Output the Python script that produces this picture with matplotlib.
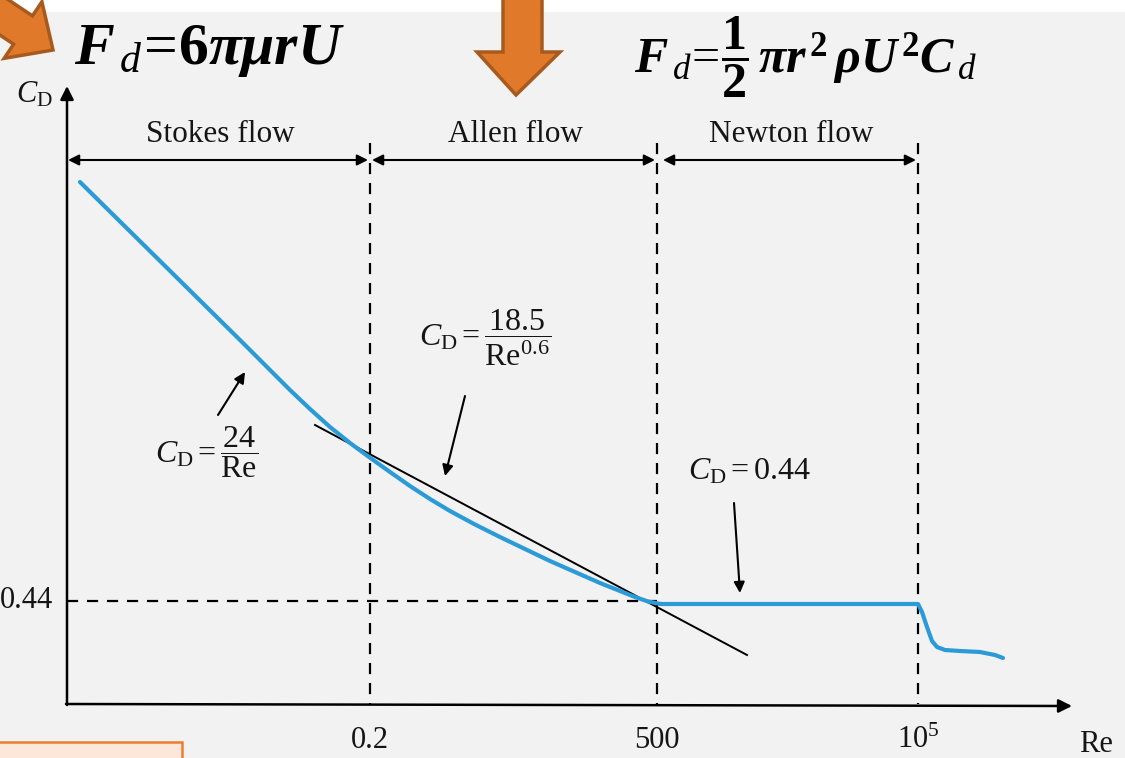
import matplotlib
matplotlib.use("Agg")
import matplotlib.pyplot as plt
from matplotlib.patches import Polygon, Rectangle
import numpy as np

plt.rcParams['mathtext.fontset'] = 'custom'
plt.rcParams['mathtext.rm'] = 'Liberation Serif'
plt.rcParams['mathtext.it'] = 'Liberation Serif:italic'
plt.rcParams['mathtext.bf'] = 'Liberation Serif:italic:bold'
plt.rcParams['mathtext.sf'] = 'Liberation Serif:bold'
plt.rcParams['font.family'] = ['Liberation Serif', 'DejaVu Serif']

# ---------------- data (schematic chart coordinates) -------------
# x positions of the regime boundaries on the schematic Re axis
boundary_labels = ['0.2', '500', r'$10^5$']
boundary_x = [370, 657, 918]
cd_level_label = '0.44'
cd_level_y = 601

# blue drag curve: Stokes + Allen part
curve1_x = [80, 160, 240, 290, 310, 330, 350, 369, 390, 410, 430, 450, 475, 500, 525,
            550, 575, 600, 620, 635, 648, 661]
curve1_y = [182, 261, 340, 390, 409, 427, 443, 457, 472, 486, 499, 511, 524.5, 537, 549,
            561, 572, 583, 591, 597, 601.5, 604]
# Newton plateau and drag crisis
curve2_x = [661, 918, 922, 927, 932, 937, 945, 960, 980, 995, 1003]
curve2_y = [604, 604, 612, 627, 641, 647, 650, 651, 652, 655, 658]
# Allen asymptote 18.5/Re^0.6
allen_x = [315, 747]
allen_y = [425, 655]

regime_names = ['Stokes flow', 'Allen flow', 'Newton flow']
regime_left = [68, 372, 663]
regime_right = [368, 655, 916]

# ---------------- figure ----------------
fig = plt.figure(figsize=(11.25, 7.58), dpi=100)
fig.patch.set_facecolor('#f2f2f2')
ax = fig.add_axes([0, 0, 1, 1])
ax.set_xlim(0, 1125)
ax.set_ylim(758, 0)
ax.axis('off')
ax.set_facecolor('#f2f2f2')

# white strip at the very top
ax.add_patch(Rectangle((0, 0), 1125, 12, facecolor='white', edgecolor='none', zorder=0))

blue = '#2B9BD8'
ink = '#151515'

# axes with arrows
x0, y0 = 67, 704
ax.annotate('', xy=(x0, 86), xytext=(x0, y0 + 1),
            arrowprops=dict(arrowstyle='-|>', color='black', lw=1.8, mutation_scale=20,
                            shrinkA=0, shrinkB=0))
ax.annotate('', xy=(1072, y0 + 2), xytext=(x0 - 1, y0),
            arrowprops=dict(arrowstyle='-|>', color='black', lw=1.8, mutation_scale=20,
                            shrinkA=0, shrinkB=0))

# dashed verticals and horizontal
for bx in boundary_x:
    ax.plot([bx, bx], [143, y0], color='black', lw=1.6, ls=(0, (5, 4)), zorder=2)
ax.plot([x0, boundary_x[1]], [cd_level_y, cd_level_y], color='black', lw=1.6,
        ls=(0, (5, 4)), zorder=2)

# regime arrows and names
for name, l, r in zip(regime_names, regime_left, regime_right):
    ax.annotate('', xy=(l, 160), xytext=(r, 160),
                arrowprops=dict(arrowstyle='<|-|>', color='black', lw=1.5,
                                mutation_scale=16, shrinkA=0, shrinkB=0))
    ax.text((l + r) / 2 + 2, 135, name, fontsize=22.5, ha='center', va='center', color=ink)

# curves
ax.plot(allen_x, allen_y, color='black', lw=1.4, zorder=3)
ax.plot(curve1_x, curve1_y, color=blue, lw=3.0, solid_capstyle='round',
        solid_joinstyle='round', zorder=4)
ax.plot(curve2_x, curve2_y, color=blue, lw=3.0, solid_capstyle='round',
        solid_joinstyle='round', zorder=4)

# tick labels
for lab, bx in zip(boundary_labels, boundary_x):
    ax.text(bx, 740, lab, fontsize=22, ha='center', va='center', color=ink)
ax.text(53, cd_level_y, cd_level_label, fontsize=22, ha='right', va='center', color=ink)
ax.text(1096, 744, 'Re', fontsize=22, ha='center', va='center', color=ink)
ax.text(34, 95, r'$C_{\mathrm{D}}$', fontsize=22, ha='center', va='center', color=ink)

# annotations
ax.text(207, 452, r'$C_{\mathrm{D}}=\dfrac{24}{\mathrm{Re}}$', fontsize=23, ha='center',
        va='center', color=ink)
ax.annotate('', xy=(245, 372), xytext=(218, 415),
            arrowprops=dict(arrowstyle='-|>', color='black', lw=1.5, mutation_scale=16,
                            shrinkA=0, shrinkB=0))
ax.text(485, 338, r'$C_{\mathrm{D}}=\dfrac{18.5}{\mathrm{Re}^{0.6}}$', fontsize=23,
        ha='center', va='center', color=ink)
ax.annotate('', xy=(445, 476), xytext=(465, 396),
            arrowprops=dict(arrowstyle='-|>', color='black', lw=1.5, mutation_scale=16,
                            shrinkA=0, shrinkB=0))
ax.text(750, 472, r'$C_{\mathrm{D}}=0.44$', fontsize=23, ha='center', va='center',
        color=ink)
ax.annotate('', xy=(740, 593), xytext=(734, 503),
            arrowprops=dict(arrowstyle='-|>', color='black', lw=1.5, mutation_scale=16,
                            shrinkA=0, shrinkB=0))

# orange decoration arrows
orange = '#E07A2A'
orange_edge = '#A85A1E'
T = np.array([53.0, 50.0])
d = np.array([30.0, 20.0]); d /= np.linalg.norm(d)
n = np.array([-d[1], d[0]])
B = T - 36 * d
S = B - 90 * d
pts = [T, B + 34 * n, B + 17 * n, S + 17 * n, S - 17 * n, B - 17 * n, B - 34 * n]
ax.add_patch(Polygon(pts, closed=True, facecolor=orange, edgecolor=orange_edge, lw=2.5,
                     zorder=5))
pts2 = [(516, 95), (477, 52), (503, 52), (503, -10), (542, -10), (542, 52), (560, 52)]
ax.add_patch(Polygon(pts2, closed=True, facecolor=orange, edgecolor=orange_edge, lw=2.5,
                     zorder=5))

# orange box bottom-left
ax.add_patch(Rectangle((-5, 742), 187, 30, facecolor='#FDE6DA', edgecolor='#ED7D31',
                       lw=1.8, zorder=5))

# formulas
ax.text(74, 51, r'$\mathbf{F}_{\,\mathit{d}}\!=\!\mathsf{6}\mathbf{\pi\mu r U}$', fontsize=43,
        ha='left', va='center', color='black')
ax.text(634, 57,
        r'$\mathbf{F}_{\,\mathit{d}}\!=\!\dfrac{\mathsf{1}}{\mathsf{2}}\,\mathbf{\pi r}^{\,\mathsf{2}}\,\mathbf{\rho U}^{\,\mathsf{2}}\mathbf{C}_{\,\mathit{d}}$',
        fontsize=36, ha='left', va='center', color='black')

fig.savefig('out.png', dpi=100, facecolor=fig.get_facecolor())
